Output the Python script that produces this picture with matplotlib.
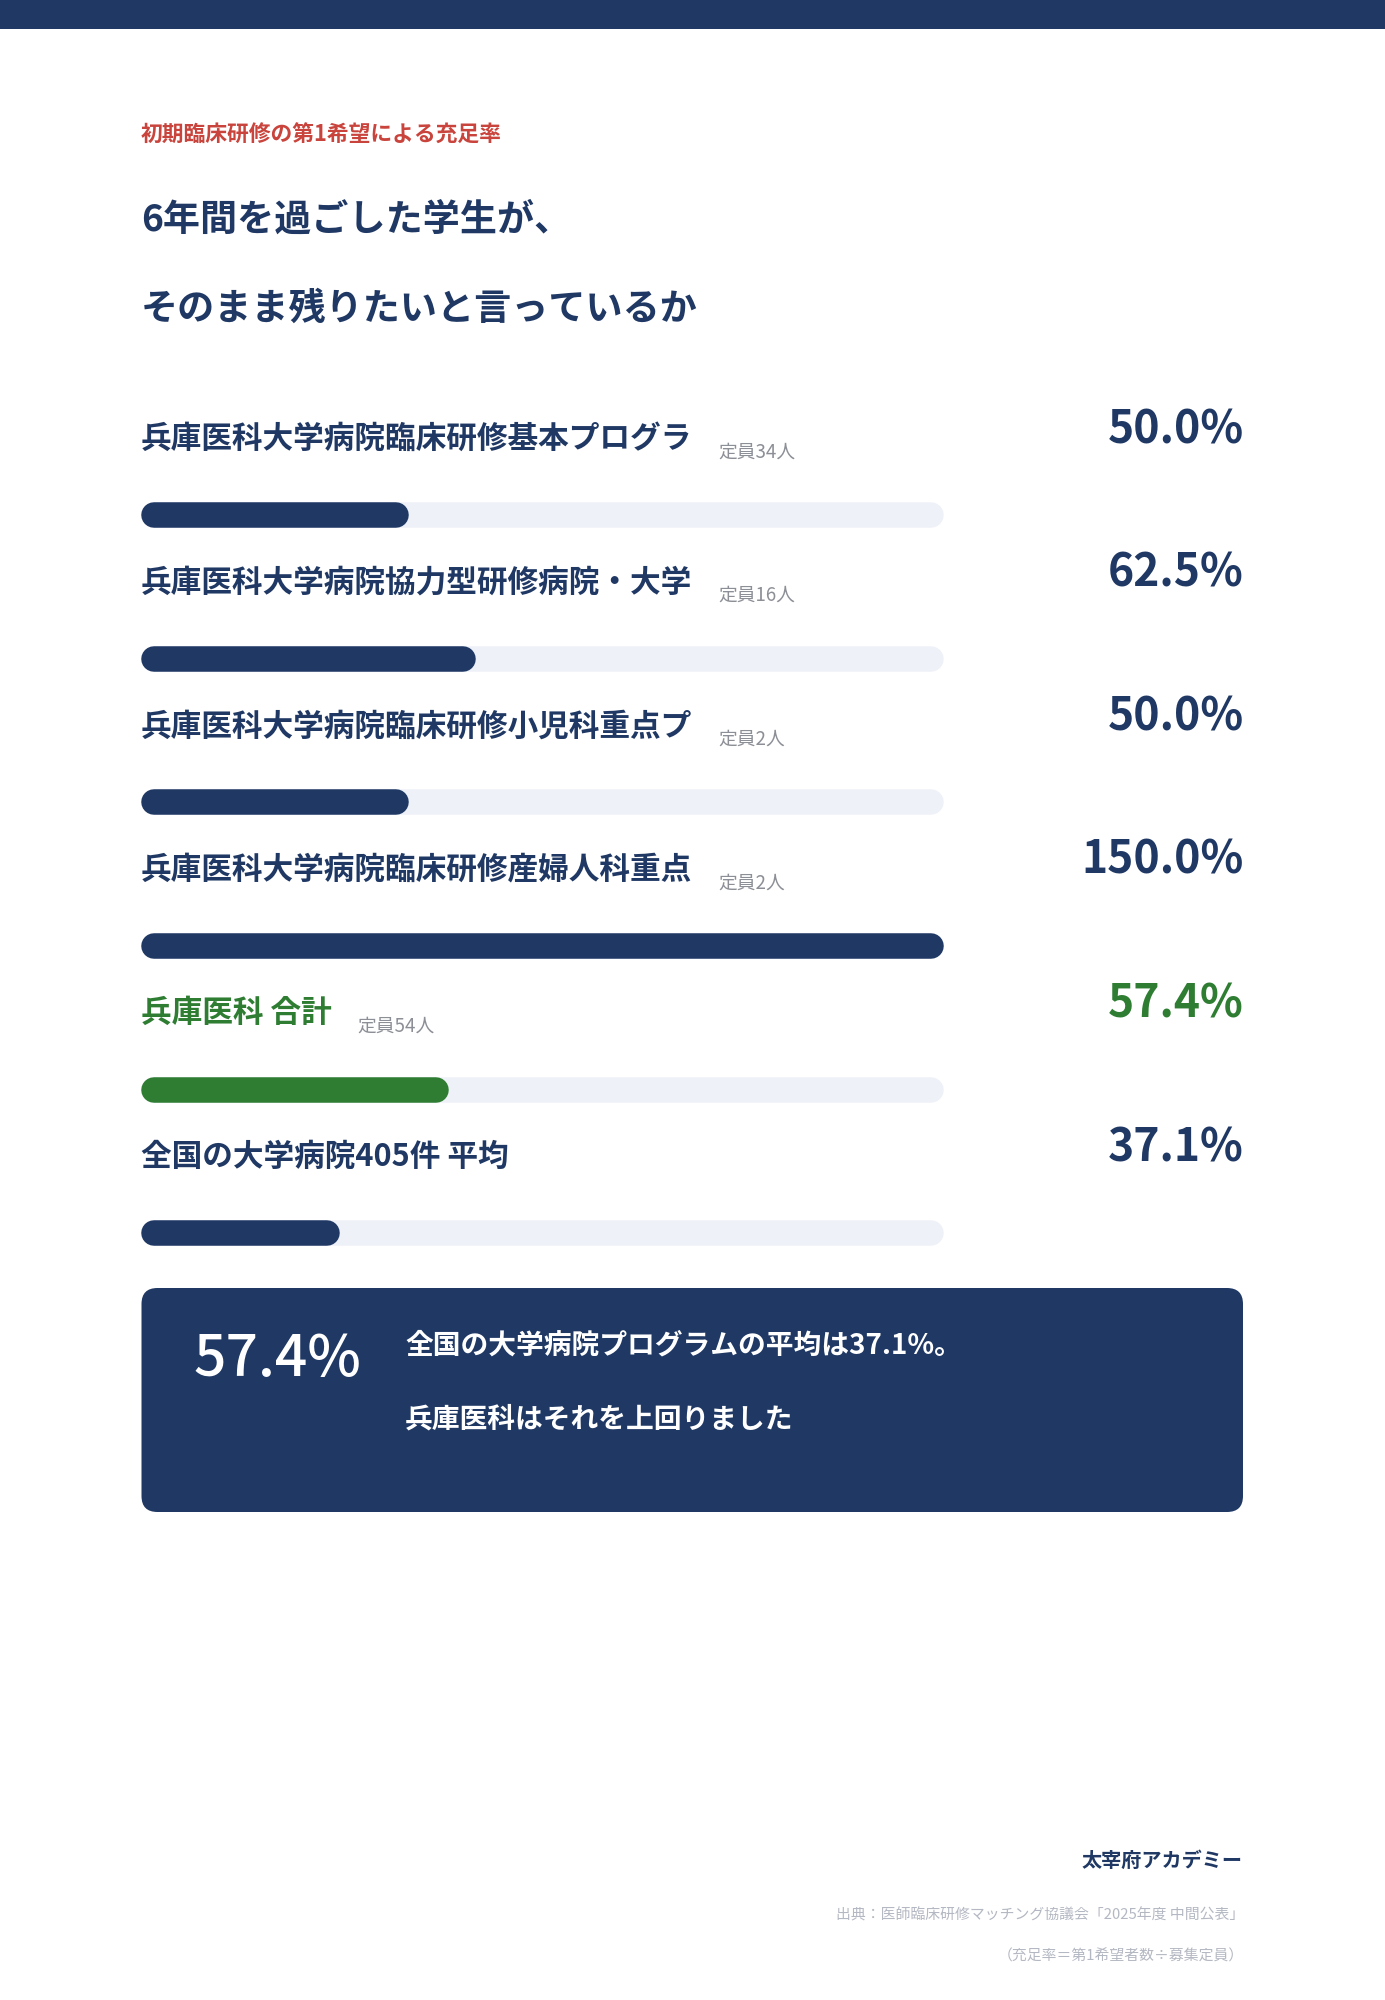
import matplotlib
matplotlib.use("Agg")
import matplotlib.pyplot as plt
from matplotlib.patches import FancyBboxPatch, Rectangle

plt.rcParams['font.family'] = ['Noto Sans CJK JP', 'DejaVu Sans']

# ---- data ----
labels = [
    "兵庫医科大学病院臨床研修基本プログラ",
    "兵庫医科大学病院協力型研修病院・大学",
    "兵庫医科大学病院臨床研修小児科重点プ",
    "兵庫医科大学病院臨床研修産婦人科重点",
    "兵庫医科 合計",
    "全国の大学病院405件 平均",
]
capacity = [34, 16, 2, 2, 54, None]
rates = [50.0, 62.5, 50.0, 150.0, 57.4, 37.1]
highlight = [False, False, False, False, True, False]
scale_max = 150.0

kicker = "初期臨床研修の第1希望による充足率"
title_lines = ["6年間を過ごした学生が、", "そのまま残りたいと言っているか"]
box_value = "57.4%"
box_lines = ["全国の大学病院プログラムの平均は37.1%。", "兵庫医科はそれを上回りました"]
brand = "太宰府アカデミー"
source_lines = ["出典：医師臨床研修マッチング協議会「2025年度 中間公表」",
                "（充足率＝第1希望者数÷募集定員）"]

# ---- style ----
NAVY = "#1F3864"
GREEN = "#2E7D32"
RED = "#C9443C"
TRACK = "#EEF1F8"
GRAY = "#8C8F96"
LIGHTGRAY = "#B4B8C2"

W, H = 1385, 2000
fig = plt.figure(figsize=(W / 100, H / 100), dpi=100)
fig.patch.set_facecolor("white")

page = fig.add_axes([0, 0, 1, 1])
page.set_xlim(0, W)
page.set_ylim(H, 0)
page.axis("off")

# top band
page.add_patch(Rectangle((0, 0), W, 29, color=NAVY, lw=0))

# header texts
page.text(141, 135, kicker, color=RED, fontsize=15.7, fontweight="bold",
          ha="left", va="center")
page.text(141, 220, title_lines[0], color=NAVY, fontsize=26.7, fontweight="bold",
          ha="left", va="center")
page.text(141, 309, title_lines[1], color=NAVY, fontsize=26.7, fontweight="bold",
          ha="left", va="center")

# bar axes: x in percent, y in page pixels
bar_left, bar_right = 141.5, 943.5
sx = (bar_right - bar_left) / scale_max
bars = fig.add_axes([0, 0, 1, 1])
bars.set_xlim(-bar_left / sx, (W - bar_left) / sx)
bars.set_ylim(H, 0)
bars.axis("off")
bars.patch.set_alpha(0)

bar_h_px = 25.5
lw_pt = bar_h_px * 72 / 100
r_units = (bar_h_px / 2) / sx

row0_label, row_step = 439, 143.6
renderer = fig.canvas.get_renderer()

for i, (lab, cap, v, hl) in enumerate(zip(labels, capacity, rates, highlight)):
    col = GREEN if hl else NAVY
    y_lab = row0_label + i * row_step
    y_bar = 515.2 + i * row_step
    y_pct = y_lab - 9
    # track
    bars.plot([r_units, scale_max - r_units], [y_bar, y_bar], color=TRACK,
              lw=lw_pt, solid_capstyle="round", zorder=1)
    # value
    bars.plot([r_units, max(v, 2 * r_units) - r_units], [y_bar, y_bar], color=col,
              lw=lw_pt, solid_capstyle="round", zorder=2)
    # label
    t = page.text(141, y_lab, lab, color=col, fontsize=22.1, fontweight="bold",
                  ha="left", va="center")
    if cap is not None:
        bb = t.get_window_extent(renderer=renderer)
        page.text(bb.x1 + 26, y_lab + 13, f"定員{cap}人", color=GRAY,
                  fontsize=13.5, ha="left", va="center")
    page.text(1244, y_pct, f"{v:.1f}%", color=col, fontsize=32,
              fontweight="bold", ha="right", va="center")

# summary box
page.add_patch(FancyBboxPatch((141.5, 1288), 1101.5, 224,
                              boxstyle="round,pad=0,rounding_size=16",
                              fc=NAVY, ec="none", zorder=3))
page.text(193, 1360, box_value, color="white", fontsize=41, fontweight="medium",
          ha="left", va="center", zorder=4)
page.text(405, 1346, box_lines[0], color="white", fontsize=20,
          fontweight="bold", ha="left", va="center", zorder=4)
page.text(405, 1420, box_lines[1], color="white", fontsize=20,
          fontweight="bold", ha="left", va="center", zorder=4)

# footer
page.text(1243, 1860, brand, color=NAVY, fontsize=14.5, fontweight="bold",
          ha="right", va="center")
page.text(1244, 1915, source_lines[0], color=LIGHTGRAY, fontsize=10.7,
          ha="right", va="center")
page.text(1244, 1956, source_lines[1], color=LIGHTGRAY, fontsize=10.7,
          ha="right", va="center")

fig.savefig("out.png", dpi=100, facecolor="white")
